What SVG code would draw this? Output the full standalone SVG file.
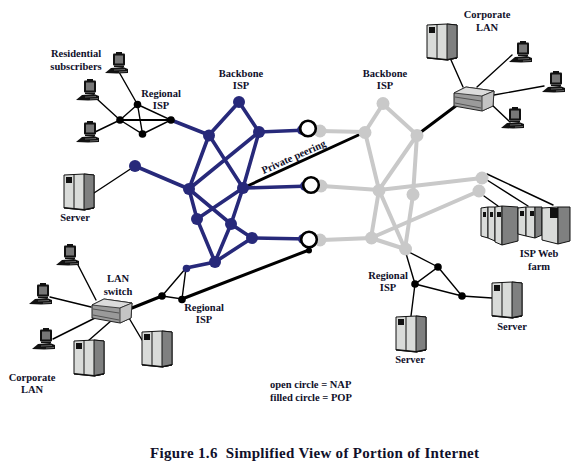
<svg xmlns="http://www.w3.org/2000/svg" width="580" height="470" viewBox="0 0 580 470">
<style>
text{font-family:"Liberation Serif","Times New Roman",serif;font-weight:bold;font-size:10.500px;fill:#10102a;text-anchor:middle}
.l{stroke-linecap:round;fill:none}
.blue{stroke:#27297a;stroke-width:3.600}
.gray{stroke:#c9c9c9;stroke-width:4}
.thin{stroke:#000;stroke-width:1.400}
.thick{stroke:#000;stroke-width:3}
.mid{stroke:#000;stroke-width:2}
.b{fill:#27297a}.g{fill:#c9c9c9}.k{fill:#000}
.nap{fill:#fff;stroke:#000;stroke-width:2.600}
.lt{fill:#d9dbd9;stroke:#111;stroke-width:1}
.dk{fill:#7f8080;stroke:#111;stroke-width:1}
.sq{fill:#111}
</style>
<defs>
<g id="server">
<path d="M0 1 L20 0 L30 1 L30 34 L20 36 L0 34Z" class="lt"/>
<path d="M20 0 L30 1 L30 34 L20 36Z" class="dk"/>
<path d="M10 1V35" stroke="#111" stroke-width="1"/>
<rect x="2" y="3" width="6" height="6" class="sq"/>
<path d="M0 33 L20 35 L30 33 L30 34.500 L20 36.500 L0 34.500Z" class="sq"/>
</g>
<g id="pc">
<path d="M11 0H17V2H11Z" class="sq"/>
<rect x="8" y="1.500" width="12" height="12" rx="1" class="sq"/>
<rect x="10" y="3.500" width="8" height="8" fill="#777"/>
<path d="M9 13.500H19V15H9Z" class="sq"/>
<path d="M6 16 L18 15 L23 17 L23 21 L12 21.500 L0 21 Z" class="sq"/>
<path d="M9 18 L20 17.500M14 20 L22 19.500" stroke="#999" stroke-width=".6"/>
</g>
<g id="switch">
<path d="M1 6 L13 0 L41 4 L40 19 L29 24 L1 19Z" fill="#9a9a9a" stroke="#222" stroke-width="1"/>
<path d="M1 6 L13 0 L41 4 L29 9Z" fill="#dcdcdc" stroke="#222" stroke-width=".8"/>
<path d="M29 9 L41 4 L40 19 L29 24Z" fill="#c4c4c4" stroke="#222" stroke-width=".8"/>
<path d="M2 10 L28 14M2 16 L28 21" stroke="#333" stroke-width=".7"/>
</g>
</defs>
<g id="connectors">
<g class="l thick">
<path d="M243 188L365 132"/><path d="M417 135L457 105"/>
<path d="M132 308L162 296"/><path d="M182 299L309 250"/>
</g>
<path class="l mid" d="M120 120H171"/>
<g class="l thin">
<path d="M119 72L137.500 104.500M97 99L120 120M95 132L120 120"/>
<path d="M120 120L137.500 104.500L142.500 134L120 120M137.500 104.500L171 120L142.500 134"/>
<path d="M94 193L135 166"/>
<path d="M162 296L186 268L182 299L162 296"/>
<path d="M78 265L96 300M50 297L91 307M53 339L95 318M88 341L112 320M142 340L129 318"/>
<path d="M405 250L415 284L438 267L405 250M438 267L462 296L415 284M462 296L492 298M415 284L411 316"/>
<path d="M451 60L463 87M477 87L512 55M494 95L544 86M491 104L510 122"/>
<path d="M487 174L553 205M487 180L528 206M484 196L498 206"/>
</g>
<g class="l blue">
<path d="M171 120L209 135L239 102L259 132L308 130"/>
<path d="M209 135L189 189L135 166M209 135L243 188L259 132L189 189"/>
<path d="M189 189L197 219L215 262L231 224L243 188L197 219M189 189L231 224L252 238L215 262L186 268"/>
<path d="M243 188L311 186M252 238L309 239"/>
</g>
<g class="l gray">
<path d="M320 131L365 132L383 104L417 135L379 190L365 132M417 135L413 195L405 249L379 190L371 238L322 240"/>
<path d="M322 186L379 190L482 178M371 238L479 191M371 238L405 249"/>
</g>
</g>
<g id="regional-isp-1">
<circle class="k" cx="137.500" cy="104.500" r="3.800"/><circle class="k" cx="120" cy="120" r="3.800"/><circle class="k" cx="142.500" cy="134" r="3.800"/><circle class="k" cx="171" cy="120" r="3.800"/>
<text x="161" y="97">Regional</text><text x="161" y="109">ISP</text>
</g>
<g id="regional-isp-2">
<circle class="k" cx="162" cy="296" r="3.800"/><circle class="k" cx="182" cy="299.500" r="3.800"/><circle class="k" cx="309" cy="250.500" r="3"/>
<text x="204" y="311">Regional</text><text x="204" y="323">ISP</text>
</g>
<g id="regional-isp-3">
<circle class="k" cx="415" cy="284" r="3.800"/><circle class="k" cx="438" cy="267" r="3.800"/><circle class="k" cx="462" cy="296" r="3.800"/>
<text x="388" y="279">Regional</text><text x="388" y="291">ISP</text>
</g>
<g id="backbone-blue">
<circle class="b" cx="239" cy="102" r="6"/><circle class="b" cx="209" cy="135.500" r="6"/><circle class="b" cx="259" cy="132" r="6"/><circle class="b" cx="135" cy="166" r="6"/><circle class="b" cx="189" cy="189" r="6"/><circle class="b" cx="243" cy="188" r="6"/><circle class="b" cx="197" cy="219" r="6"/><circle class="b" cx="231" cy="224" r="6"/><circle class="b" cx="252" cy="238" r="6"/><circle class="b" cx="215" cy="262" r="6"/><circle class="b" cx="186.500" cy="268.500" r="3.800"/>
<circle class="b" cx="302" cy="130" r="5"/><circle class="b" cx="305" cy="186" r="5"/><circle class="b" cx="303" cy="239" r="5"/>
<text x="241" y="77">Backbone</text><text x="241" y="89">ISP</text>
</g>
<g id="backbone-gray">
<circle class="g" cx="383" cy="103.500" r="6.500"/><circle class="g" cx="365" cy="132.500" r="6.500"/><circle class="g" cx="417" cy="135.500" r="6.500"/><circle class="g" cx="379" cy="190.500" r="6.500"/><circle class="g" cx="413" cy="194.500" r="6.500"/><circle class="g" cx="482" cy="178" r="6.500"/><circle class="g" cx="479" cy="191" r="6.500"/><circle class="g" cx="371.500" cy="238" r="6.500"/><circle class="g" cx="405.500" cy="249" r="6.500"/>
<circle class="g" cx="320" cy="131" r="6.500"/><circle class="g" cx="321" cy="186" r="6.500"/><circle class="g" cx="320" cy="240" r="6.500"/>
<text x="385" y="77">Backbone</text><text x="385" y="89">ISP</text>
</g>
<g id="nap-1"><circle class="nap" cx="308" cy="128.500" r="7.800"/></g>
<g id="nap-2"><circle class="nap" cx="311" cy="185" r="7.800"/></g>
<g id="nap-3"><circle class="nap" cx="309" cy="239.500" r="7.800"/></g>
<g id="residential-subscribers">
<use href="#pc" x="105" y="52"/><use href="#pc" x="76" y="79"/><use href="#pc" x="76" y="121"/>
<text x="76" y="57">Residential</text><text x="76" y="70">subscribers</text>
</g>
<g id="server-left"><use href="#server" x="64" y="174"/><text x="75" y="221">Server</text></g>
<g id="corporate-lan-top">
<use href="#server" x="427" y="24"/><use href="#pc" x="509" y="41"/><use href="#pc" x="542" y="71"/><use href="#pc" x="501" y="107"/>
<use href="#switch" x="453" y="87"/>
<text x="487" y="18">Corporate</text><text x="487" y="31">LAN</text>
</g>
<g id="corporate-lan-bottom">
<use href="#pc" x="56" y="244"/><use href="#pc" x="29" y="283"/><use href="#pc" x="32" y="328"/>
<use href="#server" x="74" y="340"/><use href="#server" x="142" y="331"/>
<use href="#switch" x="91" y="299"/>
<text x="118" y="282">LAN</text><text x="118" y="295">switch</text>
<text x="32" y="381">Corporate</text><text x="32" y="393">LAN</text>
</g>
<g id="isp-web-farm">
<path class="lt" d="M481 208L488 207V238L481 236Z"/><rect class="sq" x="483" y="212" width="3" height="5"/>
<path class="lt" d="M488 207L495 207V241L488 238Z"/><rect class="sq" x="490" y="212" width="3" height="5"/>
<path class="lt" d="M495 207L502 206V245L495 242Z"/><rect class="sq" x="497" y="212" width="4" height="5"/>
<path class="dk" d="M502 206L518 207V241L502 245Z"/>
<path class="lt" d="M518 208L526 207V236L518 234Z"/><rect class="sq" x="520" y="211" width="4" height="5"/>
<path class="lt" d="M526 207L535 207V238L526 236Z"/><rect class="sq" x="530" y="211" width="4" height="5"/>
<path class="dk" d="M535 207L542 207V235L535 238Z"/>
<path class="lt" d="M542 208L558 207V244L542 240Z"/><rect class="sq" x="550" y="208" width="8" height="10"/>
<path class="dk" d="M558 207L570 207V241L558 244Z"/>
<text x="539" y="257">ISP Web</text><text x="539" y="270">farm</text>
</g>
<g id="server-bottom"><use href="#server" x="396" y="316"/><text x="410" y="363">Server</text></g>
<g id="server-right"><use href="#server" x="492" y="282"/><text x="512" y="330">Server</text></g>
<text x="295" y="160" transform="rotate(-24 295 160)">Private peering</text>
<text x="270" y="388" style="text-anchor:start">open circle = NAP</text>
<text x="270" y="401" style="text-anchor:start">filled circle = POP</text>
<text x="150" y="458" style="text-anchor:start;font-size:15px;letter-spacing:.3px">Figure 1.6&#160; Simplified View of Portion of Internet</text>
</svg>
